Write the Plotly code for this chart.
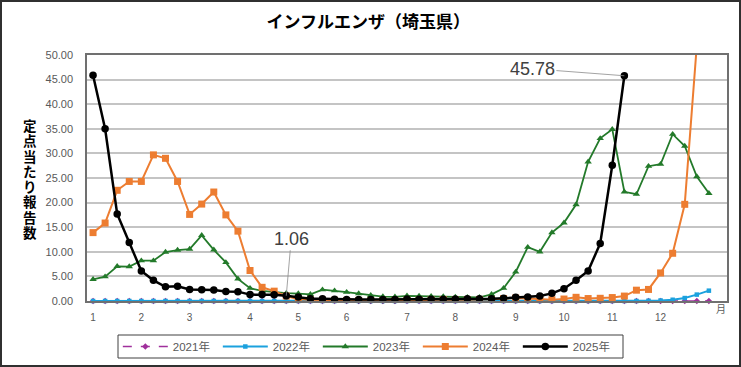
import plotly.graph_objects as go

weeks = list(range(1, 53))

y2021 = [0.0] * 52
y2022 = [0.0] * 46 + [0.05, 0.1, 0.25, 0.6, 1.3, 2.1]
y2023 = [4.4, 4.95, 7.05, 7.0, 8.2, 8.2, 9.95, 10.35, 10.55, 13.35, 10.4, 7.85, 4.5,
         2.6, 2.05, 1.8, 1.6, 1.5, 1.36, 2.3, 2.1, 1.8, 1.5, 1.15, 0.9, 0.85,
         1.05, 1.0, 0.95, 0.9, 0.8, 0.75, 0.75, 1.36, 2.6, 5.9, 10.95, 10.0, 13.9,
         15.9, 19.6, 28.3, 33.05, 34.9, 22.2, 21.7, 27.4, 27.8, 33.9, 31.5, 25.3, 21.9]
y2024 = [13.9, 15.85, 22.5, 24.3, 24.3, 29.7, 29.0, 24.3, 17.6, 19.7, 22.15, 17.5, 14.2,
         6.2, 2.78, 2.0, 1.0, 0.35, 0.25, 0.15, 0.15, 0.1, 0.1, 0.1, 0.1, 0.1,
         0.15, 0.15, 0.2, 0.3, 0.2, 0.25, 0.3, 0.3, 0.5, 0.6, 0.5, 0.4, 0.25,
         0.4, 0.75, 0.5, 0.55, 0.7, 1.0, 2.2, 2.35, 5.7, 9.7, 19.65, 52.0]
y2025 = [45.9, 35.0, 17.7, 11.9, 6.1, 4.2, 2.9, 3.0, 2.35, 2.3, 2.25, 1.95, 1.9,
         1.3, 1.3, 1.25, 1.06, 0.8, 0.45, 0.45, 0.35, 0.3, 0.3, 0.3, 0.3, 0.3,
         0.4, 0.35, 0.35, 0.35, 0.4, 0.45, 0.45, 0.45, 0.55, 0.75, 0.8, 1.0, 1.55,
         2.5, 4.2, 6.1, 11.7, 27.6, 45.78]

month_ticks = [1, 5, 9, 14, 18, 22, 27, 31, 36, 40, 44, 48]
month_labels = ["1", "2", "3", "4", "5", "6", "7", "8", "9", "10", "11", "12"]
series_names = ["2021年", "2022年", "2023年", "2024年", "2025年"]
ylabel_chars = list("定点当たり報告数")

fig = go.Figure()
fig.add_trace(go.Scatter(x=weeks[:len(y2021)], y=y2021, name=series_names[0], mode="lines+markers",
                         line=dict(color="#A0309C", width=1.5, dash="dash"),
                         marker=dict(symbol="diamond", size=5, color="#A0309C"), cliponaxis=False))
fig.add_trace(go.Scatter(x=weeks[:len(y2022)], y=y2022, name=series_names[1], mode="lines+markers",
                         line=dict(color="#1BA1DE", width=2),
                         marker=dict(symbol="square", size=4.5, color="#1BA1DE"), cliponaxis=False))
fig.add_trace(go.Scatter(x=weeks[:len(y2023)], y=y2023, name=series_names[2], mode="lines+markers",
                         line=dict(color="#237A2A", width=1.8),
                         marker=dict(symbol="triangle-up", size=6.5, color="#237A2A"), cliponaxis=False))
fig.add_trace(go.Scatter(x=weeks[:len(y2024)], y=y2024, name=series_names[3], mode="lines+markers",
                         line=dict(color="#ED7D31", width=2),
                         marker=dict(symbol="square", size=7, color="#ED7D31"), cliponaxis=True))
fig.add_trace(go.Scatter(x=weeks[:len(y2025)], y=y2025, name=series_names[4], mode="lines+markers",
                         line=dict(color="#000000", width=2.5),
                         marker=dict(symbol="circle", size=7.5, color="#000000"), cliponaxis=False))

tick_font = dict(family="Liberation Sans, Arial, sans-serif", size=11, color="#595959")

fig.update_layout(
    width=741, height=367,
    margin=dict(l=87, r=14, t=55, b=66, autoexpand=False),
    paper_bgcolor="white", plot_bgcolor="white",
    title=dict(text="<b>インフルエンザ（埼玉県）</b>", x=0.497, xanchor="center", y=0.94, yanchor="middle",
               font=dict(family="Noto Sans CJK JP", size=17, color="#000000")),
    showlegend=True,
    legend=dict(orientation="h", xref="container", yref="container", x=0.159, xanchor="left",
                y=(367 - 346.5) / 367, yanchor="middle", borderwidth=0,
                itemwidth=45, entrywidth=40, entrywidthmode="pixels",
                font=dict(family="Liberation Sans, Noto Sans CJK JP", size=11.5, color="#595959"),
                bgcolor="rgba(0,0,0,0)"),
    xaxis=dict(range=[0.5, 53.5], tickmode="array", tickvals=month_ticks, ticktext=month_labels,
               showgrid=False, zeroline=False, showline=True, mirror=True, linecolor="#707070",
               linewidth=1.5, ticks="outside", ticklen=6, tickcolor="rgba(0,0,0,0)",
               tickfont=dict(family="Liberation Sans, Arial, sans-serif", size=10, color="#595959")),
    yaxis=dict(range=[0, 50], tick0=0, dtick=5, tickformat=".2f", showgrid=True,
               gridcolor="#C4C4C4", gridwidth=1.5, zeroline=False, showline=True, mirror=True,
               linecolor="#707070", linewidth=1.5, ticks="outside", ticklen=10,
               tickcolor="rgba(0,0,0,0)", tickfont=tick_font),
)

# y-axis title as stacked vertical characters
for i, ch in enumerate(ylabel_chars):
    py = 125 + i * 15.25
    fig.add_annotation(text=f"<b>{ch}</b>", xref="paper", yref="paper",
                       x=(30 - 87) / 640, y=(301 - py) / 246, showarrow=False,
                       xanchor="center", yanchor="middle",
                       font=dict(family="Noto Sans CJK JP", size=13.5, color="#000000"))

# month unit label
fig.add_annotation(text="月", xref="x", yref="paper", x=53, y=(301 - 318) / 246,
                   showarrow=False, font=dict(family="Noto Sans CJK JP", size=10, color="#595959"))

# data labels with leader lines
fig.add_annotation(text="45.78", x=45, y=y2025[44], xref="x", yref="y", showarrow=True,
                   arrowhead=0, arrowwidth=0.8, arrowcolor="#8c8c8c", ax=-92, ay=-7,
                   font=dict(family="Liberation Sans, Arial, sans-serif", size=18, color="#404040"))
fig.add_annotation(text="1.06", x=17, y=y2025[16], xref="x", yref="y", showarrow=True,
                   arrowhead=0, arrowwidth=0.8, arrowcolor="#8c8c8c", ax=5, ay=-57,
                   font=dict(family="Liberation Sans, Arial, sans-serif", size=18, color="#404040"))

# legend frame
fig.add_shape(type="rect", xref="paper", yref="paper",
              x0=(118 - 87) / 640, x1=(623 - 87) / 640, y0=(301 - 358) / 246, y1=(301 - 335) / 246,
              line=dict(color="#404040", width=1), fillcolor="rgba(0,0,0,0)", layer="above")

# outer chart border
fig.add_shape(type="rect", xref="paper", yref="paper",
              x0=(1 - 87) / 640, x1=(740 - 87) / 640, y0=(301 - 366) / 246, y1=(301 - 1) / 246,
              line=dict(color="#303030", width=2), fillcolor="rgba(0,0,0,0)", layer="above")

fig.write_html("out.html", config={"displayModeBar": False},
               post_script="document.body.style.margin='0';document.body.style.padding='0';")
